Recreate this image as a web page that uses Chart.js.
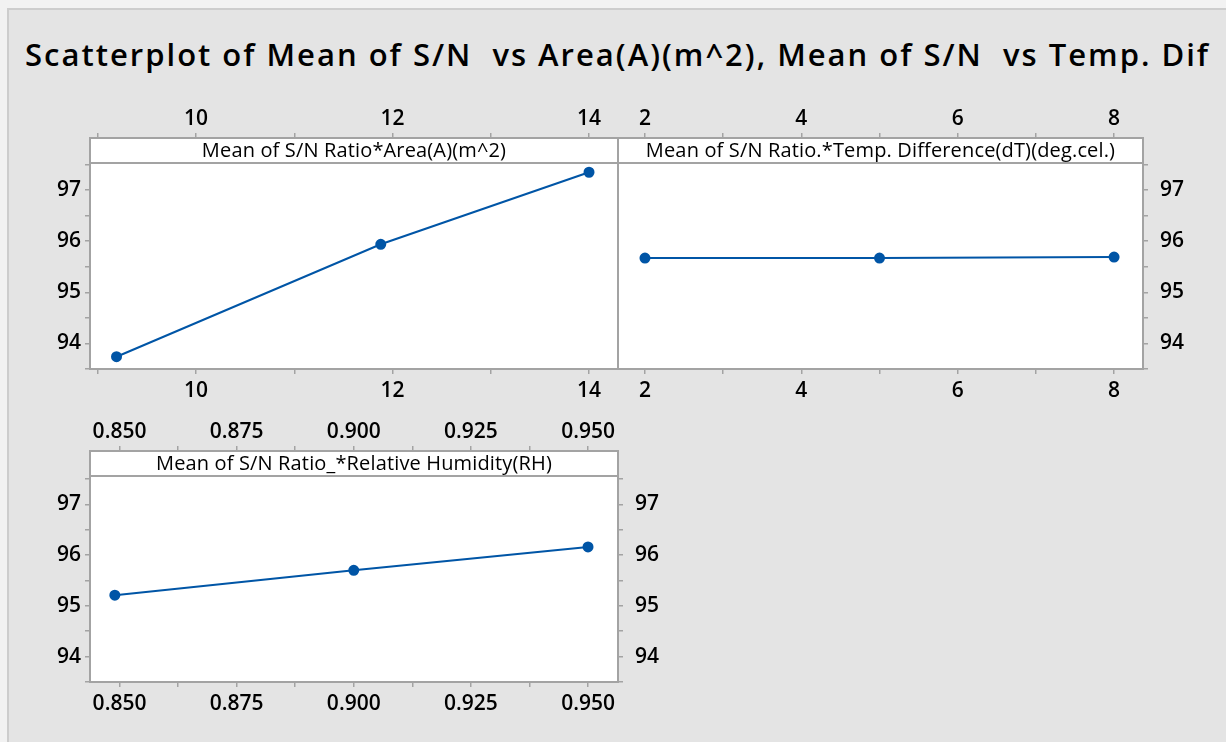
<!DOCTYPE html>
<html>
<head>
<meta charset="utf-8">
<script src="https://cdn.jsdelivr.net/npm/chart.js@4"></script>
<style>
  html, body { margin:0; padding:0; background:#f2f2f2; width:1226px; height:742px; overflow:hidden; }
  #frame { position:absolute; left:7px; top:8px; width:1230px; height:740px; background:#e4e4e4;
           border-left:2px solid #cdcdcd; border-top:2px solid #cdcdcd; }
  #title { position:absolute; left:25px; top:33px; font-family:"Open Sans", sans-serif; font-weight:600;
           font-size:31px; letter-spacing:2px; color:#000; white-space:nowrap; }
  canvas { position:absolute; }
</style>
</head>
<body>
<div id="frame"></div>
<div id="title">Scatterplot of Mean of S/N&nbsp; vs Area(A)(m^2), Mean of S/N&nbsp; vs Temp. Dif</div>
<canvas id="c1" style="left:0px;top:95px;width:640px;height:315px"></canvas>
<canvas id="c2" style="left:600px;top:95px;width:626px;height:315px"></canvas>
<canvas id="c3" style="left:0px;top:410px;width:700px;height:332px"></canvas>
<script>

// ==========================
// DATA
// ==========================

const areaX = [9.19, 11.88, 14.0];
const areaSN = [93.74, 95.94, 97.35];

const tempX = [2, 5, 8];
const tempSN = [95.67, 95.67, 95.69];

const rhX = [0.849, 0.9, 0.95];
const rhSN = [95.21, 95.70, 96.16];

// tick marks (all) and the ones that get a label
const areaTicks = [9, 10, 11, 12, 13, 14];
const areaLabels = [10, 12, 14];
const tempTicks = [2, 3, 4, 5, 6, 7, 8];
const tempLabels = [2, 4, 6, 8];
const rhTicks = [0.85, 0.8625, 0.875, 0.8875, 0.9, 0.9125, 0.925, 0.9375, 0.95];
const rhLabels = [0.85, 0.875, 0.9, 0.925, 0.95];
const snTicks = [93.5, 94, 94.5, 95, 95.5, 96, 96.5, 97, 97.5];
const snLabels = [94, 95, 96, 97];

const titles = [
    "Mean of S/N Ratio*Area(A)(m^2)",
    "Mean of S/N Ratio.*Temp. Difference(dT)(deg.cel.)",
    "Mean of S/N Ratio_*Relative Humidity(RH)"
];

// ==========================
// HELPERS
// ==========================

const blue = "#0055a6";
const edge = "#a3a3a3";
const tickFont = { family: "'Open Sans', sans-serif", size: 21, weight: "600" };

function hasValue(list, v){
    return list.some(x => Math.abs(x - v) < 1e-9);
}

// panel background, frame and header strip
const panelPlugin = {
    id: "panel",
    beforeDraw(chart){
        const a = chart.chartArea;
        const ctx = chart.ctx;
        ctx.save();
        ctx.fillStyle = "#ffffff";
        ctx.fillRect(a.left, a.top, a.right - a.left, a.bottom - a.top);
        ctx.restore();
    },
    afterDraw(chart){
        const a = chart.chartArea;
        const ctx = chart.ctx;
        const h = 25;
        ctx.save();
        ctx.fillStyle = "#ffffff";
        ctx.fillRect(a.left, a.top, a.right - a.left, h);
        ctx.strokeStyle = edge;
        ctx.lineWidth = 2;
        ctx.strokeRect(a.left, a.top, a.right - a.left, a.bottom - a.top);
        ctx.beginPath();
        ctx.moveTo(a.left, a.top + h);
        ctx.lineTo(a.right, a.top + h);
        ctx.stroke();
        ctx.fillStyle = "#000";
        ctx.font = "500 20px 'Open Sans', sans-serif";
        ctx.letterSpacing = "0.15px";
        ctx.textAlign = "center";
        ctx.textBaseline = "middle";
        ctx.fillText(chart.options.plugins.panel.text, (a.left + a.right) / 2, a.top + h / 2 + 1);
        ctx.restore();
    }
};

function axis(position, min, max, tickList, labelList, digits, size, pad){
    return {
        type: "linear",
        position: position,
        min: min,
        max: max,
        afterBuildTicks: s => { s.ticks = tickList.map(v => ({ value: v })); },
        afterFit: s => {
            if (position === "top" || position === "bottom") s.height = size;
            else s.width = size;
        },
        grid: { drawOnChartArea: false, drawTicks: true, tickLength: 5, color: edge, lineWidth: 1.5 },
        border: { display: false },
        ticks: {
            autoSkip: false,
            maxRotation: 0,
            padding: pad,
            color: "#000",
            font: tickFont,
            callback: v => hasValue(labelList, v) ? v.toFixed(digits) : ""
        }
    };
}

function makePanel(id, xs, ys, title, scales, padding){
    new Chart(document.getElementById(id), {
        type: "scatter",
        data: {
            datasets: [{
                data: xs.map((x, i) => ({ x: x, y: ys[i] })),
                showLine: true,
                borderColor: blue,
                backgroundColor: blue,
                borderWidth: 2,
                pointRadius: 4.5,
                pointHoverRadius: 4.5
            }]
        },
        options: {
            responsive: false,
            animation: false,
            layout: { padding: padding },
            plugins: { legend: { display: false }, tooltip: { enabled: false }, panel: { text: title } },
            scales: scales
        },
        plugins: [panelPlugin]
    });
}

// ==========================
// PANELS
// ==========================

makePanel("c1", areaX, areaSN, titles[0], {
    x: axis("bottom", 8.92, 14.295, areaTicks, areaLabels, 0, 41, 4),
    xTop: axis("top", 8.92, 14.295, areaTicks, areaLabels, 0, 43, 1),
    y: axis("left", 93.5, 98.02, snTicks, snLabels, 0, 90, 4)
}, { right: 22 });

makePanel("c2", tempX, tempSN, titles[1], {
    x: axis("bottom", 1.655, 8.37, tempTicks, tempLabels, 0, 41, 4),
    xTop: axis("top", 1.655, 8.37, tempTicks, tempLabels, 0, 43, 1),
    y: axis("right", 93.5, 98.02, snTicks, snLabels, 0, 83, 12)
}, { left: 18 });

makePanel("c3", rhX, rhSN, titles[2], {
    x: axis("bottom", 0.8437, 0.9564, rhTicks, rhLabels, 3, 60, 4),
    xTop: axis("top", 0.8437, 0.9564, rhTicks, rhLabels, 3, 41, 1),
    y: axis("left", 93.5, 98.05, snTicks, snLabels, 0, 90, 4),
    yRight: axis("right", 93.5, 98.05, snTicks, snLabels, 0, 82, 12)
}, {});

</script>
</body>
</html>
